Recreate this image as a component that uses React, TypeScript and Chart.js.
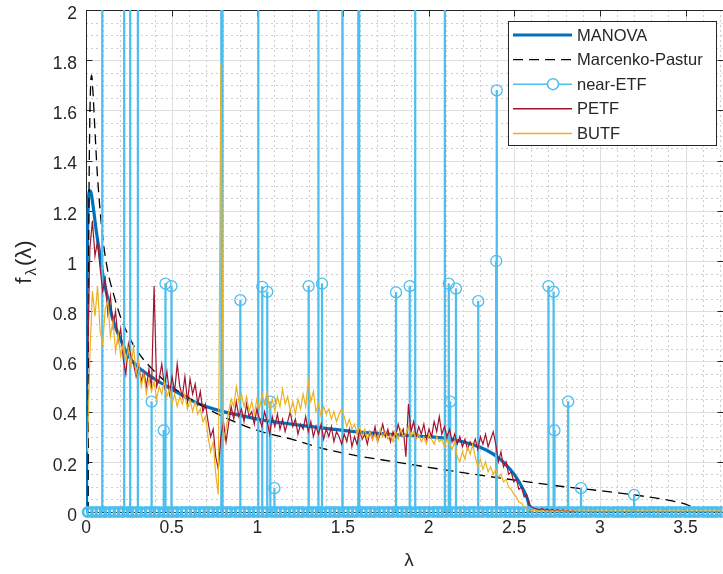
import React, { useEffect, useRef } from "react";
import { Chart, registerables } from "chart.js";
Chart.register(...registerables);

// ---------- axis ticks ----------
const X_TICKS = [0, 0.5, 1, 1.5, 2, 2.5, 3, 3.5];
const X_TICK_LABELS = ["0", "0.5", "1", "1.5", "2", "2.5", "3", "3.5"];
const Y_TICKS = [0, 0.2, 0.4, 0.6, 0.8, 1, 1.2, 1.4, 1.6, 1.8, 2];
const Y_TICK_LABELS = ["0", "0.2", "0.4", "0.6", "0.8", "1", "1.2", "1.4", "1.6", "1.8", "2"];
const X_LABEL = "λ";
const LEGEND_LABELS = ["MANOVA", "Marcenko-Pastur", "near-ETF", "PETF", "BUTF"];

// ---------- MANOVA (theoretical) ----------
const MANOVA_X = [0.003, 0.005, 0.008, 0.012, 0.02, 0.03, 0.045, 0.06, 0.08, 0.1, 0.13, 0.16, 0.2, 0.25, 0.3, 0.4, 0.5, 0.6, 0.7, 0.8, 0.9, 1.0, 1.2, 1.4, 1.6, 1.8, 2.0, 2.1, 2.2, 2.25, 2.3, 2.35, 2.4, 2.45, 2.5, 2.53, 2.56, 2.58, 2.595];
const MANOVA_Y = [0, 0.7, 1.05, 1.2, 1.28, 1.27, 1.2, 1.12, 1.03, 0.94, 0.84, 0.76, 0.69, 0.62, 0.58, 0.53, 0.49, 0.45, 0.42, 0.4, 0.385, 0.37, 0.35, 0.333, 0.318, 0.308, 0.3, 0.293, 0.28, 0.27, 0.258, 0.242, 0.22, 0.19, 0.15, 0.118, 0.08, 0.045, 0];

// ---------- Marcenko-Pastur (theoretical) ----------
const MP_X = [0.0128, 0.0135, 0.015, 0.018, 0.022, 0.027, 0.033, 0.04, 0.05, 0.065, 0.08, 0.1, 0.13, 0.16, 0.2, 0.25, 0.3, 0.4, 0.5, 0.6, 0.7, 0.8, 1.0, 1.2, 1.4, 1.6, 1.8, 2.0, 2.2, 2.4, 2.6, 2.8, 3.0, 3.2, 3.35, 3.45, 3.52, 3.55, 3.56];
const MP_Y = [0, 0.5, 0.95, 1.3, 1.55, 1.7, 1.74, 1.68, 1.55, 1.36, 1.22, 1.08, 0.95, 0.87, 0.78, 0.7, 0.64, 0.56, 0.5, 0.455, 0.415, 0.38, 0.325, 0.29, 0.25, 0.222, 0.2, 0.178, 0.157, 0.137, 0.118, 0.1, 0.085, 0.068, 0.053, 0.04, 0.026, 0.012, 0];

// ---------- near-ETF stems (non-zero) ----------
const ETF_STEM_X = [0.095, 0.223, 0.258, 0.303, 0.383, 0.454, 0.464, 0.499, 0.79, 0.797, 0.901, 1.006, 1.029, 1.058, 1.076, 1.1, 1.3, 1.357, 1.378, 1.497, 1.59, 1.595, 1.81, 1.89, 1.922, 2.095, 2.118, 2.126, 2.16, 2.29, 2.395, 2.398, 2.7, 2.73, 2.735, 2.815, 2.89, 3.2];
const ETF_STEM_Y = [3.1, 2.6, 2.4, 2.8, 0.44, 0.325, 0.91, 0.9, 3.5, 2.9, 0.844, 2.7, 0.897, 0.877, 0.44, 0.095, 0.9, 2.5, 0.91, 2.6, 3.3, 2.8, 0.875, 0.9, 2.4, 2.6, 0.91, 0.44, 0.89, 0.84, 1.0, 1.68, 0.9, 0.877, 0.325, 0.44, 0.095, 0.068];
// ---------- near-ETF stems at zero ----------
const ETF_ZERO_X = [0.01, 0.035, 0.06, 0.085, 0.11, 0.14, 0.165, 0.19, 0.215, 0.245, 0.27, 0.295, 0.32, 0.35, 0.375, 0.4, 0.425, 0.455, 0.48, 0.505, 0.53, 0.56, 0.585, 0.61, 0.635, 0.665, 0.69, 0.715, 0.74, 0.77, 0.795, 0.82, 0.845, 0.875, 0.9, 0.925, 0.95, 0.98, 1.005, 1.03, 1.055, 1.085, 1.11, 1.135, 1.16, 1.19, 1.215, 1.24, 1.265, 1.295, 1.32, 1.345, 1.37, 1.4, 1.425, 1.45, 1.475, 1.505, 1.53, 1.555, 1.58, 1.61, 1.635, 1.66, 1.685, 1.715, 1.74, 1.765, 1.79, 1.82, 1.845, 1.87, 1.895, 1.925, 1.95, 1.975, 2.0, 2.03, 2.055, 2.08, 2.105, 2.135, 2.16, 2.185, 2.21, 2.24, 2.265, 2.29, 2.315, 2.345, 2.37, 2.395, 2.42, 2.45, 2.475, 2.5, 2.525, 2.555, 2.58, 2.605, 2.63, 2.66, 2.685, 2.71, 2.735, 2.765, 2.79, 2.815, 2.84, 2.87, 2.895, 2.92, 2.945, 2.975, 3.0, 3.025, 3.05, 3.08, 3.105, 3.13, 3.155, 3.185, 3.21, 3.235, 3.26, 3.29, 3.315, 3.34, 3.365, 3.395, 3.42, 3.445, 3.47, 3.5, 3.525, 3.55, 3.575, 3.605, 3.63, 3.655, 3.68, 3.71, 3.735];

// ---------- empirical histograms (bin width 0.015, first centre 0.0075) ----------
const BIN_START = 0.0075;
const BIN_WIDTH = 0.015;
const PETF_Y = [
  0.50, 1.05, 1.16, 1.02, 1.08, 0.97, 0.88, 0.93, 0.79, 0.86,
  0.74, 0.80, 0.68, 0.73, 0.61, 0.55, 0.67, 0.62, 0.59, 0.54,
  0.59, 0.52, 0.56, 0.50, 0.57, 0.49, 0.90, 0.50, 0.53, 0.59,
  0.50, 0.56, 0.47, 0.54, 0.48, 0.59, 0.50, 0.46, 0.54, 0.44,
  0.53, 0.47, 0.51, 0.43, 0.48, 0.40, 0.43, 0.36, 0.30, 0.33,
  0.22, 0.17, 0.30, 0.36, 0.28, 0.35, 0.42, 0.37, 0.44, 0.38,
  0.41, 0.36, 0.43, 0.38, 0.40, 0.35, 0.41, 0.37, 0.34, 0.40,
  0.36, 0.31, 0.38, 0.34, 0.39, 0.33, 0.37, 0.32, 0.36, 0.40,
  0.34, 0.37, 0.31, 0.35, 0.33, 0.38, 0.32, 0.36, 0.30, 0.34,
  0.31, 0.35, 0.29, 0.33, 0.30, 0.34, 0.28, 0.32, 0.30, 0.27,
  0.31, 0.28, 0.33, 0.26, 0.30, 0.27, 0.33, 0.29, 0.31, 0.27,
  0.32, 0.29, 0.34, 0.28, 0.31, 0.35, 0.30, 0.33, 0.28, 0.32,
  0.30, 0.35, 0.31, 0.33, 0.22, 0.43, 0.32, 0.36, 0.30, 0.34,
  0.31, 0.35, 0.29, 0.33, 0.30, 0.36, 0.32, 0.38, 0.31, 0.34,
  0.30, 0.33, 0.28, 0.31, 0.27, 0.30, 0.26, 0.29, 0.25, 0.28,
  0.26, 0.29, 0.25, 0.30, 0.27, 0.31, 0.26, 0.29, 0.32, 0.27,
  0.20, 0.24, 0.18, 0.20, 0.15, 0.16, 0.12, 0.13, 0.09, 0.10,
  0.06, 0.07, 0.03, 0.02, 0.015, 0.012, 0.008, 0.014, 0.006, 0.012,
  0.005, 0.01, 0.004, 0.009, 0.003, 0.008, 0.002, 0.006, 0.001, 0.004, 0
];
const BUTF_Y = [
  0.24, 0.62, 0.88, 0.78, 0.90, 0.72, 0.67, 0.81, 0.84, 0.70,
  0.76, 0.64, 0.71, 0.62, 0.67, 0.60, 0.65, 0.58, 0.66, 0.55,
  0.60, 0.50, 0.55, 0.47, 0.53, 0.48, 0.52, 0.45, 0.50, 0.47,
  0.52, 0.46, 0.49, 0.43, 0.47, 0.42, 0.46, 0.43, 0.47, 0.41,
  0.45, 0.40, 0.44, 0.39, 0.41, 0.36, 0.38, 0.30, 0.24, 0.28,
  0.15, 0.07, 1.79, 0.28, 0.33, 0.40, 0.45, 0.42, 0.50, 0.44,
  0.47, 0.42, 0.46, 0.40, 0.44, 0.39, 0.45, 0.41, 0.47, 0.43,
  0.48, 0.41, 0.45, 0.40, 0.46, 0.42, 0.49, 0.43, 0.46, 0.40,
  0.44, 0.39, 0.45, 0.41, 0.47, 0.42, 0.52, 0.44, 0.48, 0.40,
  0.43, 0.38, 0.42, 0.39, 0.41, 0.37, 0.40, 0.36, 0.39, 0.41,
  0.38, 0.34, 0.37, 0.33, 0.35, 0.31, 0.34, 0.30, 0.33, 0.29,
  0.32, 0.29, 0.31, 0.28, 0.33, 0.30, 0.32, 0.29, 0.31, 0.28,
  0.32, 0.29, 0.33, 0.30, 0.31, 0.34, 0.30, 0.32, 0.29, 0.31,
  0.28, 0.30, 0.27, 0.31, 0.29, 0.27, 0.30, 0.28, 0.29, 0.26,
  0.29, 0.27, 0.25, 0.28, 0.22, 0.20, 0.24, 0.21, 0.26, 0.23,
  0.27, 0.22, 0.18, 0.21, 0.17, 0.20, 0.16, 0.18, 0.15, 0.17,
  0.14, 0.15, 0.12, 0.13, 0.10, 0.09, 0.07, 0.06, 0.04, 0.035,
  0.02, 0.012, 0.008, 0.006, 0.005, 0.006, 0.004, 0.005, 0.004, 0.004,
  0.004, 0.004, 0.004, 0.004, 0.004, 0.004, 0.004, 0.004, 0.004, 0.004, 0.004
];
const PETF_TAIL_X = [2.95, 3.716];
const PETF_TAIL_Y = [0, 0];
const BUTF_TAIL_X = [3.1, 3.5, 3.716];
const BUTF_TAIL_Y = [0.004, 0.004, 0.004];

// ---------- colours ----------
const C_MANOVA = "#0072BD";
const C_MP = "#000000";
const C_ETF = "#4DBEEE";
const C_PETF = "#A2142F";
const C_BUTF = "#EDB120";
const AXIS_COLOR = "#262626";
const FONT = '"Liberation Sans", Arial, Helvetica, sans-serif';

const X_MAX = 3.716;

const pts = (xs: number[], ys: number[]) => xs.map((x, i) => ({ x, y: ys[i] }));

const gridPlugin = {
  id: "matlabGrid",
  beforeDatasetsDraw(chart: any) {
    const { ctx, chartArea: a, scales } = chart;
    const xs = scales.x, ys = scales.y;
    ctx.save();
    ctx.beginPath();
    ctx.rect(a.left, a.top, a.right - a.left, a.bottom - a.top);
    ctx.clip();
    ctx.lineWidth = 1;
    // minor grid
    ctx.strokeStyle = "#cdcdcd";
    ctx.setLineDash([2, 3]);
    for (let k = 1; k * 0.1 < X_MAX; k++) {
      if (k % 5 === 0) continue;
      const px = Math.round(xs.getPixelForValue(k * 0.1)) + 0.5;
      ctx.beginPath(); ctx.moveTo(px, a.top); ctx.lineTo(px, a.bottom); ctx.stroke();
    }
    for (let k = 1; k < 40; k++) {
      if (k % 4 === 0) continue;
      const py = Math.round(ys.getPixelForValue(k * 0.05)) + 0.5;
      ctx.beginPath(); ctx.moveTo(a.left, py); ctx.lineTo(a.right, py); ctx.stroke();
    }
    // major grid
    ctx.setLineDash([]);
    ctx.strokeStyle = "#dedede";
    X_TICKS.forEach((v) => {
      const px = Math.round(xs.getPixelForValue(v)) + 0.5;
      ctx.beginPath(); ctx.moveTo(px, a.top); ctx.lineTo(px, a.bottom); ctx.stroke();
    });
    Y_TICKS.forEach((v) => {
      const py = Math.round(ys.getPixelForValue(v)) + 0.5;
      ctx.beginPath(); ctx.moveTo(a.left, py); ctx.lineTo(a.right, py); ctx.stroke();
    });
    ctx.restore();
    // box and inward ticks
    ctx.save();
    ctx.strokeStyle = AXIS_COLOR;
    ctx.lineWidth = 1;
    const L = Math.round(a.left) + 0.5, R = Math.round(a.right) + 0.5;
    const T = Math.round(a.top) + 0.5, B = Math.round(a.bottom) + 0.5;
    ctx.strokeRect(L, T, R - L, B - T);
    const tl = 6;
    X_TICKS.forEach((v) => {
      const px = Math.round(xs.getPixelForValue(v)) + 0.5;
      ctx.beginPath(); ctx.moveTo(px, T); ctx.lineTo(px, T + tl); ctx.stroke();
      ctx.beginPath(); ctx.moveTo(px, B); ctx.lineTo(px, B - tl); ctx.stroke();
    });
    Y_TICKS.forEach((v) => {
      const py = Math.round(ys.getPixelForValue(v)) + 0.5;
      ctx.beginPath(); ctx.moveTo(L, py); ctx.lineTo(L + tl, py); ctx.stroke();
      ctx.beginPath(); ctx.moveTo(R, py); ctx.lineTo(R - tl, py); ctx.stroke();
    });
    ctx.restore();
  },
};

const annotatePlugin = {
  id: "matlabLegendAndLabels",
  afterDraw(chart: any) {
    const { ctx } = chart;
    // y label f_λ(λ)
    ctx.save();
    ctx.fillStyle = AXIS_COLOR;
    ctx.translate(25, 262);
    ctx.rotate(-Math.PI / 2);
    const big = `22px ${FONT}`;
    const small = `15px ${FONT}`;
    ctx.font = big; const wf = ctx.measureText("f").width;
    ctx.font = small; const wl = ctx.measureText("λ").width;
    ctx.font = big; const wp = ctx.measureText("(λ)").width;
    const gap = 2;
    let u = -(wf + wl + wp + 2 * gap) / 2;
    ctx.textBaseline = "alphabetic";
    ctx.font = big; ctx.fillText("f", u, 6); u += wf + gap;
    ctx.font = small; ctx.fillText("λ", u, 11); u += wl + gap;
    ctx.font = big; ctx.fillText("(λ)", u, 6);
    ctx.restore();

    // x label
    ctx.save();
    ctx.fillStyle = AXIS_COLOR;
    ctx.font = `19px ${FONT}`;
    ctx.textAlign = "center";
    ctx.textBaseline = "middle";
    ctx.fillText(X_LABEL, 409, 561);
    ctx.restore();

    // legend
    ctx.save();
    const bx = 508.5, by = 21.5, bw = 208, bh = 124;
    ctx.fillStyle = "#ffffff";
    ctx.fillRect(bx, by, bw, bh);
    ctx.strokeStyle = AXIS_COLOR;
    ctx.lineWidth = 1;
    ctx.strokeRect(bx, by, bw, bh);
    const x0 = 513, x1 = 572, tx = 577;
    ctx.font = `16.5px ${FONT}`;
    ctx.textBaseline = "middle";
    ctx.textAlign = "left";
    LEGEND_LABELS.forEach((label, i) => {
      const y = 35 + i * 24.6;
      ctx.setLineDash([]);
      if (i === 0) { ctx.strokeStyle = C_MANOVA; ctx.lineWidth = 3; }
      if (i === 1) { ctx.strokeStyle = C_MP; ctx.lineWidth = 1.3; ctx.setLineDash([10, 6]); }
      if (i === 2) { ctx.strokeStyle = C_ETF; ctx.lineWidth = 1.5; }
      if (i === 3) { ctx.strokeStyle = C_PETF; ctx.lineWidth = 1.5; }
      if (i === 4) { ctx.strokeStyle = C_BUTF; ctx.lineWidth = 1.5; }
      ctx.beginPath(); ctx.moveTo(x0, y); ctx.lineTo(x1, y); ctx.stroke();
      ctx.setLineDash([]);
      if (i === 2) {
        ctx.fillStyle = "#ffffff";
        ctx.beginPath(); ctx.arc(553, y, 5.5, 0, Math.PI * 2); ctx.fill(); ctx.stroke();
      }
      ctx.fillStyle = AXIS_COLOR;
      ctx.fillText(label, tx, y + 1);
    });
    ctx.restore();
  },
};

export default function App() {
  const ref = useRef<HTMLCanvasElement | null>(null);
  useEffect(() => {
    if (!ref.current) return;
    const binX = PETF_Y.map((_, i) => +(BIN_START + i * BIN_WIDTH).toFixed(4));
    const etfAll = pts(ETF_STEM_X, ETF_STEM_Y).concat(ETF_ZERO_X.map((x) => ({ x, y: 0 })));
    const isZero = (c: any) => !!c.raw && c.raw.y === 0;
    const chart = new Chart(ref.current, {
      type: "line",
      data: {
        datasets: [
          {
            label: "BUTF",
            data: pts(binX, BUTF_Y).concat(pts(BUTF_TAIL_X, BUTF_TAIL_Y)),
            borderColor: C_BUTF, borderWidth: 1.2, pointRadius: 0, order: 0,
          } as any,
          {
            label: "PETF",
            data: pts(binX, PETF_Y).concat(pts(PETF_TAIL_X, PETF_TAIL_Y)),
            borderColor: C_PETF, borderWidth: 1.2, pointRadius: 0, order: 1,
          },
          {
            label: "near-ETF",
            data: etfAll,
            showLine: false,
            pointStyle: "circle",
            pointRadius: (c: any) => (isZero(c) ? 4.7 : 5.5),
            pointBorderWidth: (c: any) => (isZero(c) ? 2.8 : 1.3),
            pointBorderColor: C_ETF,
            pointBackgroundColor: "rgba(0,0,0,0)",
            clip: { left: 8, top: 0, right: 0, bottom: 8 },
            order: 2,
          },
          {
            type: "bar",
            label: "near-ETF stems",
            data: etfAll,
            backgroundColor: C_ETF,
            borderWidth: 0,
            barThickness: 1.6,
            grouped: false,
            order: 3,
          } as any,
          {
            label: "Marcenko-Pastur",
            data: pts(MP_X, MP_Y),
            borderColor: C_MP, borderWidth: 1.3, borderDash: [10, 6], pointRadius: 0,
            cubicInterpolationMode: "monotone", order: 4,
          },
          {
            label: "MANOVA",
            data: pts(MANOVA_X, MANOVA_Y),
            borderColor: C_MANOVA, borderWidth: 3.2, pointRadius: 0,
            cubicInterpolationMode: "monotone", order: 5,
          },
        ],
      },
      options: {
        responsive: false,
        animation: false,
        devicePixelRatio: 1,
        layout: { padding: { top: 0, right: 6, left: 0, bottom: 0 } },
        plugins: { legend: { display: false }, tooltip: { enabled: false } },
        scales: {
          x: {
            type: "linear", min: 0, max: X_MAX, offset: false,
            grid: { display: false, drawTicks: false },
            border: { display: false },
            afterBuildTicks: (s: any) => { s.ticks = X_TICKS.map((v) => ({ value: v })); },
            afterFit: (s: any) => { s.height = 62; s.paddingLeft = 0; s.paddingRight = 0; },
            ticks: {
              autoSkip: false, maxRotation: 0, padding: 6, color: AXIS_COLOR,
              font: { family: FONT, size: 17.5 },
              callback: (_v: any, i: number) => X_TICK_LABELS[i],
            },
          },
          y: {
            type: "linear", min: 0, max: 2,
            grid: { display: false, drawTicks: false },
            border: { display: false },
            afterBuildTicks: (s: any) => { s.ticks = Y_TICKS.map((v) => ({ value: v })); },
            afterFit: (s: any) => { s.width = 86; s.paddingTop = 10; s.paddingBottom = 0; },
            ticks: {
              autoSkip: false, padding: 9, color: AXIS_COLOR, labelOffset: 4,
              font: { family: FONT, size: 17.5 },
              callback: (_v: any, i: number) => Y_TICK_LABELS[i],
            },
          },
        },
      },
      plugins: [gridPlugin, annotatePlugin],
    } as any);
    return () => chart.destroy();
  }, []);
  return (
    <div style={{ position: "fixed", left: 0, top: 0, width: 723, height: 574, overflow: "hidden", background: "#fff" }}>
      <canvas ref={ref} width={730} height={574} style={{ display: "block" }} />
    </div>
  );
}
